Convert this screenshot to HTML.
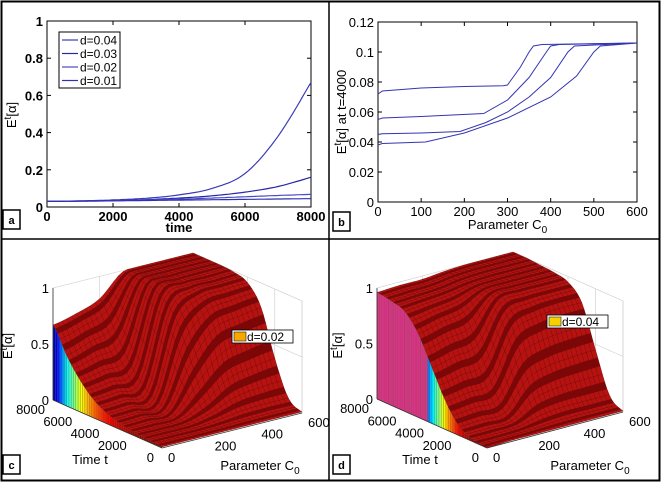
<!DOCTYPE html>
<html><head><meta charset="utf-8"><style>
html,body{margin:0;padding:0;background:#fff;}
svg{display:block;font-family:"Liberation Sans",Arial,sans-serif;}
</style></head><body>
<svg id="fig" width="661" height="482" viewBox="0 0 661 482" xmlns="http://www.w3.org/2000/svg">
<rect x="1.5" y="1.5" width="658" height="479" fill="#fff" stroke="#000" stroke-width="2"/>
<line x1="329" y1="1" x2="329" y2="481" stroke="#000" stroke-width="1.5"/>
<line x1="1" y1="239" x2="660" y2="239" stroke="#000" stroke-width="1.5"/>
<g id="pa"></g>
<g id="pb"></g>
<g id="pc"></g>
<g id="pd"></g>
</svg>
<script>
// ---- Panel a data ----
const aTimes=[0,1000,2000,3000,4000,5000,6000,7000,8000];
const aSeries1=[0.03,0.033,0.038,0.047,0.065,0.1,0.18,0.38,0.67];
const aSeries2=[0.03,0.032,0.035,0.04,0.048,0.06,0.08,0.11,0.16];
const aSeries3=[0.03,0.032,0.034,0.038,0.042,0.048,0.055,0.062,0.068];
const aSeries4=[0.03,0.031,0.033,0.035,0.037,0.039,0.041,0.043,0.045];
const aLegend=["d=0.04","d=0.03","d=0.02","d=0.01"];
const aXTicks=[0,2000,4000,6000,8000];
const aYTicks=[0,0.2,0.4,0.6,0.8,1];
const aYTickLabels=["0","0.2","0.4","0.6","0.8","1"];
// ---- Panel b data ----
const bC1=[0,10,100,200,290,300,330,350,360,380,600];
const bV1=[0.072,0.074,0.076,0.077,0.0775,0.078,0.09,0.1,0.104,0.105,0.106];
const bC2=[0,10,100,245,300,350,390,400,420,600];
const bV2=[0.055,0.056,0.057,0.059,0.068,0.083,0.1,0.104,0.105,0.106];
const bC3=[0,10,100,190,250,300,350,400,440,455,600];
const bV3=[0.045,0.0455,0.046,0.047,0.053,0.06,0.07,0.083,0.1,0.104,0.106];
const bC4=[0,10,110,200,300,400,460,500,515,600];
const bV4=[0.038,0.039,0.04,0.046,0.056,0.07,0.084,0.1,0.104,0.106];
const bXTicks=[0,100,200,300,400,500,600];
const bYTicks=[0,0.02,0.04,0.06,0.08,0.1,0.12];
const bYTickLabels=["0","0.02","0.04","0.06","0.08","0.1","0.12"];
// ---- Panels c,d data (rows t = 0..8000, cols C0 = 0..600) ----
const sTimes=[0,1000,2000,3000,4000,5000,6000,7000,8000];
const sC0=[0,100,200,300,400,500,600];
const cZ=[
[0.01,0.01,0.01,0.01,0.01,0.01,0.01],
[0.02,0.02,0.02,0.04,0.07,0.08,0.08],
[0.03,0.03,0.04,0.15,0.3,0.35,0.38],
[0.05,0.06,0.07,0.45,0.7,0.75,0.78],
[0.09,0.1,0.12,0.75,0.92,0.94,0.95],
[0.16,0.18,0.22,0.9,0.98,0.98,0.99],
[0.28,0.32,0.38,0.96,0.99,1,1],
[0.45,0.52,0.6,0.98,1,1,1],
[0.67,0.72,0.8,0.99,1,1,1]];
const dZ=[
[0,0.01,0.01,0.01,0.01,0.01,0.01],
[0.02,0.02,0.03,0.08,0.1,0.1,0.1],
[0.08,0.09,0.1,0.35,0.42,0.44,0.45],
[0.25,0.28,0.32,0.72,0.8,0.82,0.82],
[0.5,0.55,0.6,0.92,0.95,0.95,0.95],
[0.75,0.8,0.84,0.97,0.98,0.98,0.98],
[0.9,0.92,0.94,0.98,0.99,0.99,0.99],
[0.94,0.95,0.96,0.99,1,1,1],
[0.96,0.97,0.97,0.99,1,1,1]];
const sTLabels=[0,2000,4000,6000,8000];
const sCLabels=[0,200,400,600];
const sZLabels=[0,0.5,1];

const NS="http://www.w3.org/2000/svg";
function mk(parent,tag,attrs,name,text){
  const e=document.createElementNS(NS,tag);
  for(const k in attrs)e.setAttribute(k,attrs[k]);
  
  
  if(text!==undefined)e.textContent=text;
  parent.appendChild(e);return e;
}
function labelBox(g,x,y,t){
  mk(g,'rect',{x:x,y:y,width:17,height:19,fill:'#fff',stroke:'#000','stroke-width':1.5},'panel-label-box');
  mk(g,'text',{x:x+8.5,y:y+14,'text-anchor':'middle','font-size':11,'font-weight':'bold'},'panel-label',t);
}
function etext(g,x,y,size,suffix,name){
  const t=mk(g,'text',{x:x,y:y,'text-anchor':'middle','font-size':size,transform:`rotate(-90 ${x} ${y})`},name);
  t.innerHTML='E<tspan dy="-5" font-size="'+(size-3)+'">t</tspan><tspan dy="5">[α]'+suffix+'</tspan>';
}
// Catmull-Rom interpolation of sampled array at fractional index
function cr(arr,f){const n=arr.length;const i=Math.max(0,Math.min(n-2,Math.floor(f)));const u=f-i;
  const p0=arr[Math.max(0,i-1)],p1=arr[i],p2=arr[i+1],p3=arr[Math.min(n-1,i+2)];
  return 0.5*((2*p1)+(-p0+p2)*u+(2*p0-5*p1+4*p2-p3)*u*u+(-p0+3*p1-3*p2+p3)*u*u*u);}
function smoothPath(X,Y,xs,ys){let d='';const N=(xs.length-1)*10;
  for(let k=0;k<=N;k++){const f=k/10;const x=cr(xs,f),y=cr(ys,f);d+=(k?'L':'M')+X(x).toFixed(1)+','+Y(y).toFixed(1);}return d;}
// ---------- Panel a ----------
(function(){
  const g=document.getElementById('pa');
  const x0=47,x1=311,y0=207,y1=21;
  const X=v=>x0+(v/8000)*(x1-x0), Y=v=>y0-(v/1)*(y0-y1);
  mk(g,'rect',{x:x0,y:y1,width:x1-x0,height:y0-y1,fill:'#fff',stroke:'#000','stroke-width':1},'plot-area');
  aXTicks.forEach(v=>{mk(g,'line',{x1:X(v),x2:X(v),y1:y0,y2:y0-4,stroke:'#000'},'x-tick');mk(g,'line',{x1:X(v),x2:X(v),y1:y1,y2:y1+4,stroke:'#000'},'x-tick');
    mk(g,'text',{x:X(v),y:y0+14,'text-anchor':'middle','font-size':13,'font-weight':'bold'},'x-tick-label',String(v));});
  aYTicks.forEach((v,i)=>{mk(g,'line',{x1:x0,x2:x0+4,y1:Y(v),y2:Y(v),stroke:'#000'},'y-tick');mk(g,'line',{x1:x1,x2:x1-4,y1:Y(v),y2:Y(v),stroke:'#000'},'y-tick');
    mk(g,'text',{x:x0-4,y:Y(v)+5,'text-anchor':'end','font-size':13,'font-weight':'bold'},'y-tick-label',aYTickLabels[i]);});
  mk(g,'text',{x:(x0+x1)/2,y:232,'text-anchor':'middle','font-size':13,'font-weight':'bold'},'x-axis-title','time');
  etext(g,16,115,13,'','y-axis-title');
  const cols=['#3a3ab8','#2626a8','#4a4ac8','#3030b0'];
  [aSeries1,aSeries2,aSeries3,aSeries4].forEach((s,k)=>{
    mk(g,'path',{d:smoothPath(X,Y,aTimes,s),fill:'none',stroke:cols[k],'stroke-width':1.2},'series-line-'+(k+1));
  });
  mk(g,'rect',{x:59,y:32,width:61,height:56,fill:'#fff',stroke:'#000'},'legend');
  aLegend.forEach((l,i)=>{const y=40+i*13.5;
    mk(g,'line',{x1:62,x2:78,y1:y,y2:y,stroke:cols[i],'stroke-width':1.2},'legend-line');
    mk(g,'text',{x:80,y:y+4.5,'font-size':12},'legend-entry',l);});
  labelBox(g,3,210,'a');
})();
// ---------- Panel b ----------
(function(){
  const g=document.getElementById('pb');
  const x0=378,x1=637,y0=202,y1=22;
  const X=v=>x0+(v/600)*(x1-x0), Y=v=>y0-(v/0.12)*(y0-y1);
  mk(g,'rect',{x:x0,y:y1,width:x1-x0,height:y0-y1,fill:'#fff',stroke:'#000','stroke-width':1},'plot-area');
  bXTicks.forEach(v=>{mk(g,'line',{x1:X(v),x2:X(v),y1:y0,y2:y0-4,stroke:'#000'},'x-tick');mk(g,'line',{x1:X(v),x2:X(v),y1:y1,y2:y1+4,stroke:'#000'},'x-tick');
    mk(g,'text',{x:X(v),y:y0+14,'text-anchor':'middle','font-size':13},'x-tick-label',String(v));});
  bYTicks.forEach((v,i)=>{mk(g,'line',{x1:x0,x2:x0+4,y1:Y(v),y2:Y(v),stroke:'#000'},'y-tick');mk(g,'line',{x1:x1,x2:x1-4,y1:Y(v),y2:Y(v),stroke:'#000'},'y-tick');
    mk(g,'text',{x:x0-4,y:Y(v)+5,'text-anchor':'end','font-size':13},'y-tick-label',bYTickLabels[i]);});
  const t=mk(g,'text',{x:(x0+x1)/2,y:229,'text-anchor':'middle','font-size':13},'x-axis-title');
  t.innerHTML='Parameter C<tspan dy="4" font-size="10">0</tspan>';
  etext(g,346,112,13,' at t=4000','y-axis-title');
  [[bC1,bV1],[bC2,bV2],[bC3,bV3],[bC4,bV4]].forEach((s,k)=>{
    mk(g,'polyline',{points:s[0].map((c,i)=>X(c)+','+Y(s[1][i])).join(' '),fill:'none',stroke:'#3434b4','stroke-width':1},'series-line-'+(k+1));
  });
  labelBox(g,333,212,'b');
})();
// ---------- 3D panels ----------
function jet(f){f=Math.max(0,Math.min(1,f));
  const r=Math.max(0,Math.min(1,1.5-Math.abs(4*f-3))),gg=Math.max(0,Math.min(1,1.5-Math.abs(4*f-2))),b=Math.max(0,Math.min(1,1.5-Math.abs(4*f-1)));
  return `rgb(${Math.round(r*255)},${Math.round(gg*255)},${Math.round(b*255)})`;}
function surf(g,O,uC,uT,uZ,Z,pink,legend,lx,ly,lcol,lab,lbx){
  const P=(c,t,z)=>[O[0]+uC[0]*c/600+uT[0]*t/8000, O[1]+uC[1]*c/600+uT[1]*t/8000+uZ*z];
  const pt=p=>p[0].toFixed(1)+','+p[1].toFixed(1);
  const wall=(a,b,c,d)=>mk(g,'polygon',{points:[a,b,c,d].map(pt).join(' '),fill:'#fff',stroke:'#ccc','stroke-width':0.6},'back-wall');
  wall(P(0,8000,0),P(600,8000,0),P(600,8000,1),P(0,8000,1));
  wall(P(600,0,0),P(600,8000,0),P(600,8000,1),P(600,0,1));
  [0.5].forEach(z=>{mk(g,'line',{x1:P(0,8000,z)[0],y1:P(0,8000,z)[1],x2:P(600,8000,z)[0],y2:P(600,8000,z)[1],stroke:'#ccc','stroke-width':0.6},'grid-line');
    mk(g,'line',{x1:P(600,0,z)[0],y1:P(600,0,z)[1],x2:P(600,8000,z)[0],y2:P(600,8000,z)[1],stroke:'#ccc','stroke-width':0.6},'grid-line');});
  sCLabels.forEach(c=>mk(g,'line',{x1:P(c,8000,0)[0],y1:P(c,8000,0)[1],x2:P(c,8000,1)[0],y2:P(c,8000,1)[1],stroke:'#ccc','stroke-width':0.6},'grid-line'));
  sTLabels.forEach(t=>mk(g,'line',{x1:P(600,t,0)[0],y1:P(600,t,0)[1],x2:P(600,t,1)[0],y2:P(600,t,1)[1],stroke:'#ccc','stroke-width':0.6},'grid-line'));
  const zAt=(c,t)=>{const ft=t/1000;const col=Z.map(row=>cr(row,c/100));return Math.max(0,Math.min(1.0,cr(col,ft)));};
  const NC=30,NT=48,quads=[];
  for(let j=0;j<NT;j++)for(let i=0;i<NC;i++){
    const c0=600*i/NC,c1=600*(i+1)/NC,t0=8000*j/NT,t1=8000*(j+1)/NT;
    quads.push({d:c0/600+t0/8000,p:[P(c0,t0,zAt(c0,t0)),P(c1,t0,zAt(c1,t0)),P(c1,t1,zAt(c1,t1)),P(c0,t1,zAt(c0,t1))],dark:(j%3==1)});
  }
  quads.sort((a,b)=>b.d-a.d);
  quads.forEach(q=>mk(g,'polygon',{points:q.p.map(pt).join(' '),fill:q.dark?'#7e0606':'#b81210',stroke:'#6a0404','stroke-width':0.35},'surface-patch'));
  for(let j=0;j<NT;j++){const t0=8000*j/NT,t1=8000*(j+1)/NT,z0=zAt(0,t0),z1=zAt(0,t1);
    const zm=(z0+z1)/2;let col;
    if(pink) col= zm>0.6?'#e0308a':jet(1-zm/0.75);
    else col=jet(1-zm/0.7);
    mk(g,'polygon',{points:[P(0,t0,0),P(0,t1,0),P(0,t1,z1),P(0,t0,z0)].map(pt).join(' '),fill:col,stroke:'#553',"stroke-width":0.25},'curtain-bar');}
  const ln=(a,b,n)=>mk(g,'line',{x1:a[0],y1:a[1],x2:b[0],y2:b[1],stroke:'#333','stroke-width':0.8},n);
  ln(P(0,0,0),P(0,8000,0),'t-axis');ln(P(0,0,0),P(600,0,0),'c0-axis');ln(P(0,8000,0),P(0,8000,1),'z-axis');
  sZLabels.forEach(z=>{const p=P(0,8000,z);mk(g,'text',{x:p[0]-4,y:p[1]+5,'text-anchor':'end','font-size':13},'z-tick-label',String(z));});
  sTLabels.forEach(t=>{const p=P(0,t,0);mk(g,'text',{x:p[0]-8,y:p[1]+14,'text-anchor':'end','font-size':13},'t-tick-label',String(t));});
  sCLabels.forEach(c=>{const p=P(c,0,0);mk(g,'text',{x:p[0]+6,y:p[1]+14,'text-anchor':'start','font-size':13},'c0-tick-label',String(c));});
  mk(g,'text',{x:lbx+90,y:464,'text-anchor':'middle','font-size':13},'t-axis-title','Time t');
  const tt=mk(g,'text',{x:lbx+260,y:470,'text-anchor':'middle','font-size':13},'c0-axis-title');
  tt.innerHTML='Parameter C<tspan dy="4" font-size="10">0</tspan>';
  const zp=P(0,8000,0.5);etext(g,lbx+12,zp[1]+2,13,'','z-axis-title');
  mk(g,'rect',{x:lx,y:ly,width:61,height:13,fill:'#fff',stroke:'#000','stroke-width':0.8},'legend');
  mk(g,'rect',{x:lx+2,y:ly+2,width:12,height:9,fill:lcol,stroke:'#000','stroke-width':0.5},'legend-swatch');
  mk(g,'text',{x:lx+15,y:ly+11,'font-size':12},'legend-entry',legend);
  labelBox(g,lbx+3,lab,lbx?'d':'c');
}
surf(document.getElementById('pc'),[162,448],[140,-35],[-109,-48],-112,cZ,false,'d=0.02',232,330,'#f5a800',455,0);
surf(document.getElementById('pd'),[487,448],[136,-36],[-110,-49],-111,dZ,true,'d=0.04',547,315,'#f7d000',455,330);
</script>
</body></html>
